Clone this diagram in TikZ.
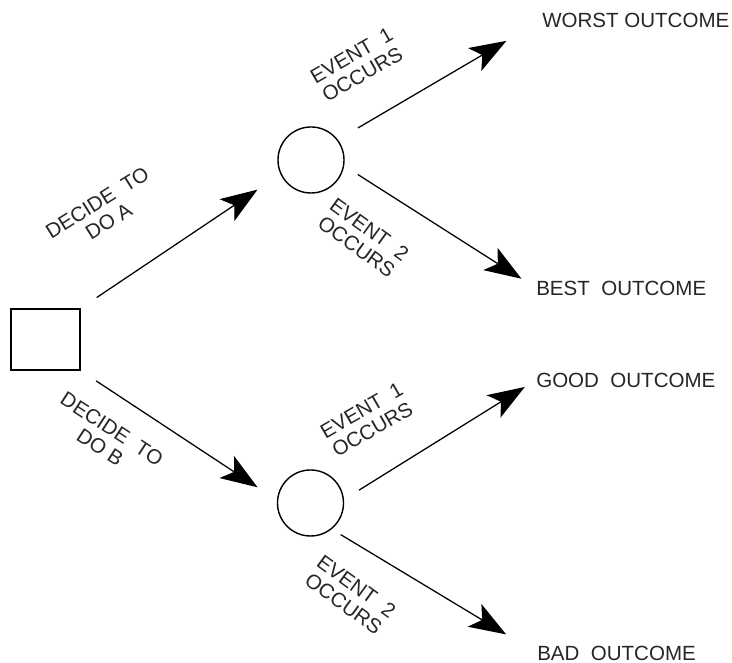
\documentclass[tikz,border=0pt]{standalone}
\usepackage{fontspec}
\setmainfont{Liberation Sans}
\usetikzlibrary{arrows.meta}
\tikzset{decision/.style={rectangle,draw,line width=1pt,minimum width=1.725cm,minimum height=1.525cm,inner sep=0pt},
         chance/.style={circle,draw,line width=1pt,minimum size=1.65cm,inner sep=0pt},
         outcome/.style={anchor=west,inner sep=0pt,text=black!85,font=\fontsize{14.6}{15.4}\selectfont},
         branch/.style={align=center,inner sep=0pt,text=black!85,font=\fontsize{14.6}{15.4}\selectfont},
         arrow/.style={-{Stealth[length=0.92cm,width=0.66cm,inset=0.22cm]},line width=0.9pt}}
\begin{document}
\begin{tikzpicture}[x=0.025cm,y=0.025cm]
    \useasboundingbox (0,0) rectangle (732,663);
    % decision and chance nodes
    \node (dec) [decision] at (45.5,323.5) {};
    \node (chA) [chance] at (311,503) {};
    \node (chB) [chance] at (310.5,160) {};
    % outcomes
    \node (worst) [outcome] at (542,643) {WORST OUTCOME};
    \node (best) [outcome] at (536,375) {BEST~~OUTCOME};
    \node (good) [outcome] at (536,283) {GOOD~~OUTCOME};
    \node (bad) [outcome] at (537,10) {BAD~~OUTCOME};
    % branch labels
    \node (lA) [branch, rotate=32] at (103,451) {DECIDE~~TO\\DO A};
    \node (lB) [branch, rotate=-33] at (106,225) {DECIDE~~TO\\DO B};
    \node (lA1) [branch, rotate=30] at (357,598) {EVENT~~1\\OCCURS};
    \node (lA2) [branch, rotate=-36] at (363,425) {EVENT~~2\\OCCURS};
    \node (lB1) [branch, rotate=30] at (367,243) {EVENT~~1\\OCCURS};
    \node (lB2) [branch, rotate=-36] at (350,68) {EVENT~~2\\OCCURS};
    \foreach \i/\j/\s/\e in {dec.north east/chA.205/0.48/0.69, dec.south east/chB.175/0.46/0.58,
                             chA.37/worst.west/0.58/1.03, chA.350/best.west/0.4/0.43,
                             chB.6/good.west/0.44/0.33, chB.309/bad.west/0.26/0.9}
        {\draw[arrow, shorten <=\s cm, shorten >=\e cm] (\i) -- (\j);}
\end{tikzpicture}
\end{document}
